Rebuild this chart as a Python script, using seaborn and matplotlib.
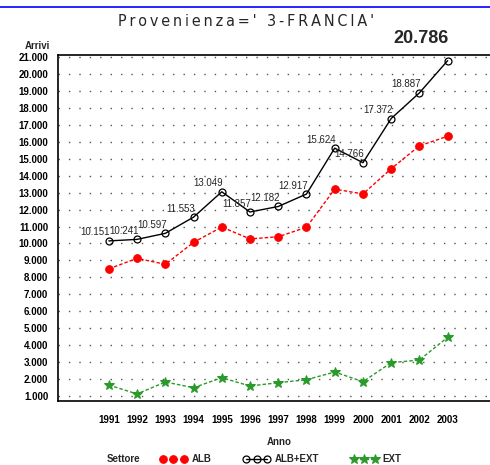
import matplotlib
matplotlib.use("Agg")
import matplotlib.pyplot as plt
import matplotlib.ticker as mticker
from matplotlib.lines import Line2D
import pandas as pd
import seaborn as sns

# data
anni = [1991, 1992, 1993, 1994, 1995, 1996, 1997, 1998, 1999, 2000, 2001, 2002, 2003]
alb_ext = [10151, 10241, 10597, 11553, 13049, 11857, 12182, 12917, 15624, 14766, 17372, 18887, 20786]
ext = [1649, 1118, 1826, 1490, 2080, 1590, 1785, 1960, 2416, 1845, 2965, 3124, 4463]
alb = [8502, 9123, 8771, 10063, 10969, 10267, 10397, 10957, 13208, 12921, 14407, 15763, 16323]
y_ticks = list(range(1000, 21001, 1000))

sns.set_style("white")
plt.rcParams["font.family"] = ["Liberation Sans", "DejaVu Sans"]
small = "Liberation Sans"

df = pd.DataFrame({"Anno": anni, "ALB": alb, "ALB+EXT": alb_ext, "EXT": ext})

fig = plt.figure(figsize=(4.9, 4.65), dpi=100)
ax = fig.add_axes([58 / 490, 1 - 401 / 465, 1 - 58 / 490, (401 - 55) / 465])

sns.lineplot(data=df, x="Anno", y="ALB", ax=ax, color="#ff0000", linestyle=(0, (2.5, 1.5)),
             linewidth=1, marker="o", markersize=5.5, markeredgecolor="#ff0000", label="ALB")
sns.lineplot(data=df, x="Anno", y="ALB+EXT", ax=ax, color="black", linewidth=1,
             marker="o", markersize=5, markerfacecolor="none", markeredgecolor="black",
             markeredgewidth=0.9, label="ALB+EXT")
sns.lineplot(data=df, x="Anno", y="EXT", ax=ax, color="#2a9a2a", linestyle=(0, (2.5, 1.5)),
             linewidth=1, marker="*", markersize=7, markeredgecolor="#2a9a2a", label="EXT")

# labels on the total series
for i, (a, v) in enumerate(zip(anni, alb_ext)):
    txt = f"{v:,}".replace(",", ".")
    if i == len(anni) - 1:
        ax.annotate(txt, (a, v), xytext=(1, 10), textcoords="offset points", ha="right",
                    va="bottom", fontsize=13, fontweight="bold", family=small,
                    annotation_clip=False)
    else:
        ax.annotate(txt, (a, v), xytext=(1, 2.5), textcoords="offset points", ha="right",
                    va="bottom", fontsize=7, family=small)

ax.set_xlim(1989.2, 2004.5)
ax.set_ylim(705, 21120)
ax.set_xticks(anni)
ax.xaxis.set_minor_locator(mticker.MultipleLocator(1 / 6))
ax.set_yticks(y_ticks)
ax.yaxis.set_minor_locator(mticker.MultipleLocator(500))
ax.yaxis.set_major_formatter(mticker.FuncFormatter(lambda v, p: f"{int(v):,}".replace(",", ".")))

ax.grid(axis="y", color="#555555", linestyle=(0, (1, 6.5)), linewidth=1)
ax.tick_params(axis="both", which="major", direction="out", length=5, width=1, color="black",
               labelsize=7, pad=2, labelcolor="black")
ax.tick_params(axis="both", which="minor", direction="out", length=2.5, width=1, color="black")
ax.tick_params(axis="x", which="major", pad=5)
for lab in ax.get_xticklabels() + ax.get_yticklabels():
    lab.set_fontfamily(small)
    lab.set_fontweight("bold")

for s in ["left", "bottom", "top"]:
    ax.spines[s].set_visible(True)
    ax.spines[s].set_color("black")
    ax.spines[s].set_linewidth(1.2)
ax.spines["right"].set_visible(False)

ax.set_xlabel("")
ax.set_ylabel("")
ax.legend().remove()

fig.text(37 / 490, 1 - 46 / 465, "Arrivi", ha="center", va="center", fontsize=7,
         family=small, fontweight="bold")
fig.text(279 / 490, 1 - 442 / 465, "Anno", ha="center", va="center", fontsize=7,
         family=small, fontweight="bold")
fig.text(123 / 490, 1 - 459 / 465, "Settore", ha="center", va="center", fontsize=7,
         family=small, fontweight="bold")
title = "\u2009".join("Provenienza=' 3-FRANCIA'")
fig.text(246 / 490, 1 - 21 / 465, title, ha="center", va="center", fontsize=11.5,
         family="DejaVu Sans", fontweight="light", fontstretch="condensed")

fig.add_artist(Line2D([0, 1], [1 - 7 / 465, 1 - 7 / 465], color="blue", linewidth=1.2,
                      transform=fig.transFigure))

handles = ax.get_lines()[:3]
leg = fig.legend(handles, ["ALB", "ALB+EXT", "EXT"], loc="center left",
                 bbox_to_anchor=(155 / 490, 1 - 459 / 465), ncol=3, frameon=False,
                 numpoints=3, handlelength=2.8, handletextpad=0.5, columnspacing=3.2,
                 borderpad=0, prop={"family": small, "size": 7, "weight": "bold"})

fig.savefig("out.png", dpi=100)
